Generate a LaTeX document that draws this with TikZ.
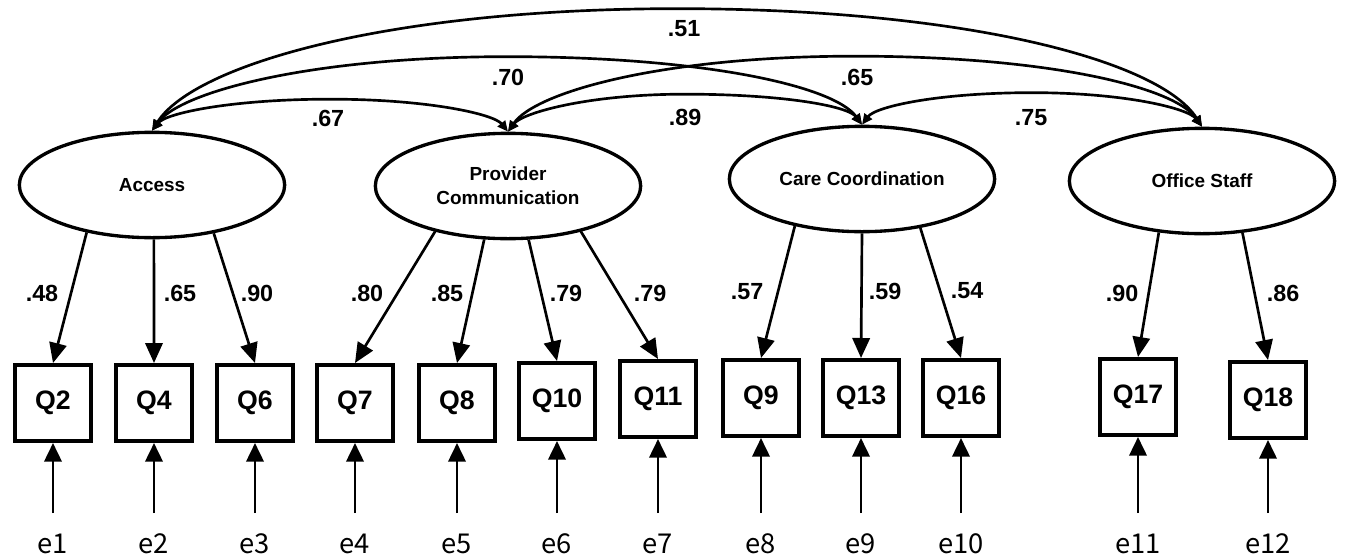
\documentclass[tikz,border=0pt]{standalone}
\usepackage{fontspec}
\setmainfont{Liberation Sans}
\newfontfamily\errfont{Noto Sans CJK JP}
\usetikzlibrary{arrows.meta,shapes.geometric,calc}

\tikzset{
  latent/.style={ellipse, draw, line width=2.5pt, minimum width=199pt, minimum height=79pt,
    inner sep=0pt, align=center, font=\bfseries\fontsize{14.2}{18}\selectfont},
  indicator/.style={rectangle, draw, line width=3pt, minimum size=57pt, inner sep=0pt,
    font=\bfseries\fontsize{20}{24}\selectfont},
  errlabel/.style={inner sep=0pt, outer ysep=16pt, text height=14pt, text depth=0pt,
    anchor=base, font=\errfont\fontsize{20.5}{24}\selectfont},
  coef/.style={inner sep=0pt, font=\bfseries\fontsize{17.5}{20}\selectfont},
  loadarrow/.style={line width=2pt, -{Triangle[length=15pt,width=13pt]}},
  errarrow/.style={line width=2pt, -{Triangle[length=14pt,width=13pt]}},
  cov/.style={line width=2pt, {Triangle[length=8pt,width=7pt]}-{Triangle[length=8pt,width=7pt]}},
}

% two-headed covariance arc over the tops of two factors
% #1 start node, #2 end node, #3 rise of the arc, #4 half of its span
\newcommand\covarc[4]{%
  \draw[cov] (#1.north)
    .. controls +(0.08*#4,-0.55*#3) and ($(#1.north)!0.5!(#2.north)+(-0.55*#4,-#3)$)
    .. ($(#1.north)!0.5!(#2.north)+(0,-#3)$)
    .. controls ($(#1.north)!0.5!(#2.north)+(0.55*#4,-#3)$) and +(-0.08*#4,-0.55*#3)
    .. (#2.north);}

\begin{document}
\begin{tikzpicture}[x=0.75pt, y=-0.75pt]
\useasboundingbox (0,0) rectangle (1345,554);

% factors
\node[latent] (access)   at (152,185) {Access};
\node[latent] (provider) at (508,186) {Provider\\Communication};
\node[latent] (care)     at (862,179) {Care Coordination};
\node[latent] (office)   at (1202,181) {Office Staff};

% observed items
\node[indicator] (q2)  at (53,403)   {Q2};
\node[indicator] (q4)  at (154,403)  {Q4};
\node[indicator] (q6)  at (255,403)  {Q6};
\node[indicator] (q7)  at (355,403)  {Q7};
\node[indicator] (q8)  at (457,403)  {Q8};
\node[indicator] (q10) at (557,401)  {Q10};
\node[indicator] (q11) at (658,399)  {Q11};
\node[indicator] (q9)  at (761,398)  {Q9};
\node[indicator] (q13) at (861,398)  {Q13};
\node[indicator] (q16) at (961,398)  {Q16};
\node[indicator] (q17) at (1138,397) {Q17};
\node[indicator] (q18) at (1268,400) {Q18};

% error terms
\node[errlabel] (e1)  at (53,553)   {e1};
\node[errlabel] (e2)  at (154,553)  {e2};
\node[errlabel] (e3)  at (255,553)  {e3};
\node[errlabel] (e4)  at (355,553)  {e4};
\node[errlabel] (e5)  at (457,553)  {e5};
\node[errlabel] (e6)  at (557,553)  {e6};
\node[errlabel] (e7)  at (658,553)  {e7};
\node[errlabel] (e8)  at (761,553)  {e8};
\node[errlabel] (e9)  at (861,553)  {e9};
\node[errlabel] (e10) at (961,553)  {e10};
\node[errlabel] (e11) at (1138,553) {e11};
\node[errlabel] (e12) at (1268,553) {e12};

\foreach \e/\q in {e1/q2,e2/q4,e3/q6,e4/q7,e5/q8,e6/q10,e7/q11,e8/q9,e9/q13,e10/q16,e11/q17,e12/q18}
  \draw[errarrow] (\e.north) -- (\q.south);

% factor loadings
\draw[loadarrow] (access.216) -- (q2.north);
\draw[loadarrow] (access.272) -- (q4.north);
\draw[loadarrow] (access.322) -- (q6.north);
\draw[loadarrow] (provider.212) -- (q7.north);
\draw[loadarrow] (provider.246) -- (q8.north);
\draw[loadarrow] (provider.291) -- (q10.north);
\draw[loadarrow] (provider.328) -- (q11.north);
\draw[loadarrow] (care.215) -- (q9.north);
\draw[loadarrow] (care.270) -- (q13.north);
\draw[loadarrow] (care.320) -- (q16.north);
\draw[loadarrow] (office.230) -- (q17.north);
\draw[loadarrow] (office.308) -- (q18.north);

\node[coef] (w2)  at (42,293)   {.48};
\node[coef] (w4)  at (180,293)  {.65};
\node[coef] (w6)  at (257,293)  {.90};
\node[coef] (w7)  at (367,293)  {.80};
\node[coef] (w8)  at (447,293)  {.85};
\node[coef] (w10) at (566,293)  {.79};
\node[coef] (w11) at (650,293)  {.79};
\node[coef] (w9)  at (747,292)  {.57};
\node[coef] (w13) at (885,291)  {.59};
\node[coef] (w16) at (967,291)  {.54};
\node[coef] (w17) at (1122,293) {.90};
\node[coef] (w18) at (1283,293) {.86};

% factor correlations
\covarc{access}{provider}{32}{178}
\covarc{access}{care}{71}{355}
\covarc{access}{office}{120}{525}
\covarc{provider}{care}{34}{177}
\covarc{provider}{office}{73}{347}
\covarc{care}{office}{33}{170}

\node[coef] (r12) at (328,118)  {.67};
\node[coef] (r13) at (508,77)   {.70};
\node[coef] (r14) at (684,29)   {.51};
\node[coef] (r23) at (685,117)  {.89};
\node[coef] (r24) at (857,77)   {.65};
\node[coef] (r34) at (1031,118) {.75};
\end{tikzpicture}
\end{document}
